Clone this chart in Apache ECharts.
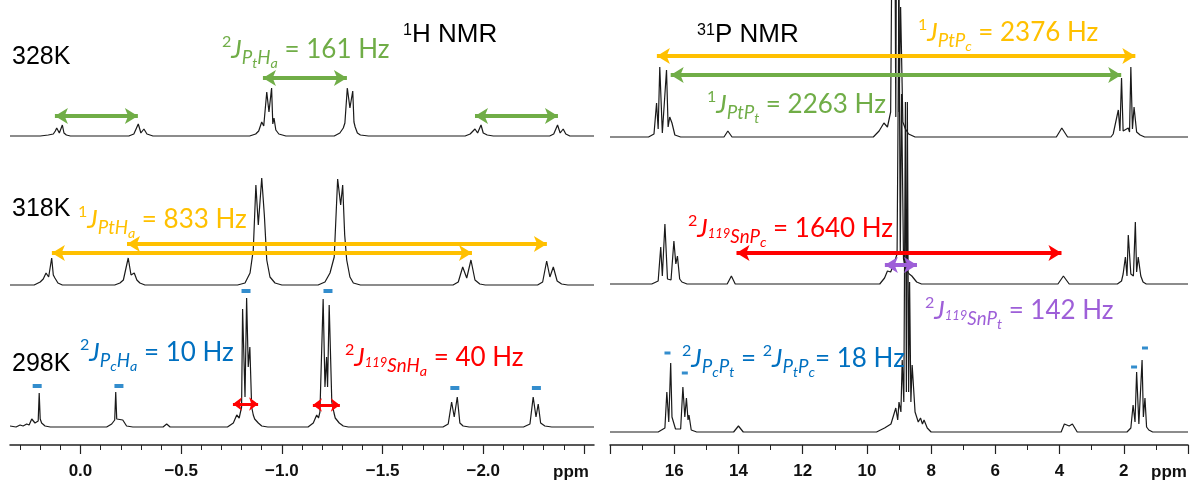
<!DOCTYPE html>
<html>
<head>
<meta charset="utf-8">
<script src="https://cdn.jsdelivr.net/npm/echarts@6/dist/echarts.min.js"></script>
<style>
html, body { margin: 0; padding: 0; background: #fff; }
#chart { width: 1191px; height: 485px; }
</style>
</head>
<body>
<div id="chart"></div>
<script>
// spectra as [ppm, intensity above own baseline]
var h1_328 = [[0.35,0],[0.2,0],[0.16,1],[0.135,2],[0.125,5],[0.118,8],[0.105,3],[0.09,11],[0.082,3],[0.07,1],[0.05,0],
  [-0.24,0],[-0.265,2],[-0.287,12],[-0.3,3],[-0.315,7],[-0.33,2],[-0.36,0],
  [-0.84,0],[-0.87,2],[-0.885,5],[-0.9,14],[-0.91,10],[-0.925,44],[-0.936,24],[-0.949,48],[-0.955,12],[-0.961,18],[-0.97,6],[-0.985,2],[-1.02,0],
  [-1.26,0],[-1.288,3],[-1.305,8],[-1.313,13],[-1.325,48],[-1.338,28],[-1.352,45],[-1.358,14],[-1.364,9],[-1.375,3],[-1.39,1],[-1.43,0],
  [-1.91,0],[-1.935,2],[-1.959,7],[-1.972,3],[-1.989,11],[-2.0,3],[-2.02,1],[-2.05,0],
  [-2.33,0],[-2.35,2],[-2.369,11],[-2.382,3],[-2.397,7],[-2.41,2],[-2.43,0],[-2.55,0]];
var h1_318 = [[0.35,0],[0.23,0],[0.2,3],[0.185,6],[0.171,12],[0.158,8],[0.143,27],[0.135,10],[0.127,7],[0.112,2],[0.09,0],
  [-0.17,0],[-0.196,2],[-0.213,5],[-0.237,27],[-0.251,10],[-0.267,12],[-0.28,5],[-0.295,2],[-0.32,0],
  [-0.78,0],[-0.817,2],[-0.842,12],[-0.858,35],[-0.871,100],[-0.883,60],[-0.9,107],[-0.913,70],[-0.925,25],[-0.941,8],[-0.966,2],[-1.0,0],
  [-1.18,0],[-1.214,3],[-1.239,12],[-1.26,28],[-1.277,106],[-1.292,80],[-1.302,100],[-1.312,50],[-1.322,25],[-1.338,8],[-1.355,2],[-1.39,0],
  [-1.85,0],[-1.876,3],[-1.898,18],[-1.918,7],[-1.939,25],[-1.959,5],[-1.983,1],[-2.01,0],
  [-2.27,0],[-2.295,3],[-2.315,24],[-2.331,8],[-2.348,18],[-2.367,4],[-2.389,1],[-2.42,0],[-2.55,0]];
var h1_298 = [[0.35,1],[0.32,0],[0.3,2],[0.285,1],[0.267,3],[0.255,2],[0.242,8],[0.226,4],[0.21,6],[0.205,34],[0.2,8],[0.193,4],[0.176,1],[0.15,0],
  [-0.13,0],[-0.155,3],[-0.17,7],[-0.175,35],[-0.18,8],[-0.188,6],[-0.21,7],[-0.229,1],[-0.26,0],
  [-0.41,0],[-0.428,3],[-0.445,0],
  [-0.73,0],[-0.759,4],[-0.776,12],[-0.788,9],[-0.8,20],[-0.805,118],[-0.817,30],[-0.825,129],[-0.833,60],[-0.841,80],[-0.85,20],[-0.858,12],[-0.865,8],[-0.871,9],[-0.883,4],[-0.9,1],[-0.93,0],
  [-1.13,0],[-1.156,4],[-1.173,12],[-1.182,9],[-1.189,15],[-1.205,128],[-1.214,40],[-1.222,70],[-1.227,40],[-1.235,122],[-1.248,25],[-1.259,14],[-1.265,9],[-1.272,10],[-1.285,4],[-1.305,1],[-1.33,0],
  [-1.8,0],[-1.826,3],[-1.843,25],[-1.856,10],[-1.871,30],[-1.884,4],[-1.9,1],[-1.93,0],
  [-2.2,0],[-2.232,3],[-2.248,30],[-2.262,10],[-2.273,23],[-2.285,4],[-2.306,1],[-2.34,0],[-2.55,0]];

var p31_328 = [[18,0],[16.8,0],[16.63,3],[16.55,34],[16.5,8],[16.45,70],[16.37,4],[16.24,67],[16.19,10],[16.14,20],[16.07,14],[15.98,2],[15.8,0],
  [14.45,0],[14.33,6],[14.2,0],
  [9.8,0],[9.62,6],[9.47,14],[9.36,10],[9.26,25],[9.16,450],[9.1,20],[9.05,450],[9.0,25],[8.95,130],[8.88,15],[8.8,8],[8.7,3],[8.5,0],
  [4.1,0],[3.93,9],[3.75,0],
  [2.4,0],[2.33,3],[2.17,27],[2.12,6],[2.07,59],[2.02,6],[1.96,5],[1.86,9],[1.82,5],[1.78,70],[1.73,8],[1.68,30],[1.6,5],[1.49,2],[1.35,0],[0,0]];
var p31_318 = [[18,0],[16.7,0],[16.5,3],[16.42,37],[16.37,8],[16.29,60],[16.21,5],[16.1,4],[16.01,43],[15.95,20],[15.9,28],[15.83,5],[15.76,2],[15.6,0],
  [14.35,0],[14.22,8],[14.1,0],
  [9.6,0],[9.45,6],[9.36,13],[9.26,12],[9.14,22],[9.06,30],[9.0,300],[8.96,30],[8.92,190],[8.86,25],[8.8,15],[8.68,10],[8.6,8],[8.45,2],[8.3,0],
  [4.05,0],[3.88,8],[3.7,0],
  [2.2,0],[2.07,3],[2.02,10],[1.95,27],[1.9,8],[1.86,49],[1.78,10],[1.7,8],[1.64,62],[1.6,12],[1.55,27],[1.47,8],[1.4,2],[1.3,0],[0,0]];
var p31_298 = [[18,0],[16.5,0],[16.29,4],[16.23,40],[16.17,10],[16.11,69],[16.07,15],[16.03,15],[15.96,3],[15.8,3],[15.73,45],[15.67,15],[15.62,34],[15.57,12],[15.54,17],[15.47,2],[15.3,0],
  [14.15,0],[14.0,6],[13.85,0],
  [9.7,0],[9.45,4],[9.25,8],[9.1,24],[9.04,12],[9.0,30],[8.94,20],[8.9,72],[8.85,30],[8.8,330],[8.77,40],[8.74,330],[8.7,40],[8.67,150],[8.63,30],[8.59,67],[8.5,20],[8.4,10],[8.33,14],[8.27,8],[8.22,12],[8.12,4],[8.0,0],
  [3.95,0],[3.85,8],[3.7,6],[3.6,8],[3.45,0],
  [1.9,0],[1.78,4],[1.71,27],[1.65,10],[1.6,60],[1.53,8],[1.43,72],[1.39,15],[1.34,34],[1.29,5],[1.22,2],[1.1,0],[0,0]];

// blue multiplet markers [ppm, level]
var dash1H = [[0.215,59],[-0.191,59],[-0.822,154],[-1.229,154],[-1.859,57],[-2.264,57]];
var dash31P = [[16.21,92],[15.67,72],[1.68,78],[1.34,97]];

// coupling arrows: [ppmFrom, ppmTo, level]
var green1H = [[0.127,-0.285,329],[-0.906,-1.323,367],[-1.959,-2.371,329]];
var orange1H = [[-0.231,-2.316,201],[0.142,-1.944,192]];
var red1H = [[-0.757,-0.882,41],[-1.154,-1.288,40]];
var orange31P = [[16.54,1.64,389]];
var green31P = [[16.11,2.08,370]];
var red31P = [[14.06,3.94,192]];
var purple31P = [[9.44,8.44,180]];

// axis ticks
var major1H = [0.0,-0.5,-1.0,-1.5,-2.0,-2.5];
var label1H = [0.0,-0.5,-1.0,-1.5,-2.0];
var minor1H = [0.3,0.2,0.1,-0.1,-0.2,-0.3,-0.4,-0.6,-0.7,-0.8,-0.9,-1.1,-1.2,-1.3,-1.4,-1.6,-1.7,-1.8,-1.9,-2.1,-2.2,-2.3,-2.4];

var GREEN = '#70AD47', ORANGE = '#FFC000', RED = '#FF0000', BLUE = '#0070C0', PURPLE = '#9E5FD8';

var chart = echarts.init(document.getElementById('chart'));

function shift(arr, off) {
  return arr.map(function (p) { return [p[0], p[1] + off]; });
}
function spectrum(arr, off, xi, yi, w) {
  return { type: 'line', xAxisIndex: xi, yAxisIndex: yi, data: shift(arr, off), symbol: 'none',
    lineStyle: { color: '#1a1a1a', width: w }, silent: true, z: 2 };
}
function arrows(list, color, xi, yi, width, size) {
  return { type: 'line', xAxisIndex: xi, yAxisIndex: yi, data: [], z: 5,
    markLine: { silent: true, symbol: ['arrow', 'arrow'], symbolSize: size, animation: false,
      lineStyle: { color: color, width: width, type: 'solid' }, label: { show: false },
      data: list.map(function (a) { return [{ coord: [a[0], a[2]] }, { coord: [a[1], a[2]] }]; }) } };
}

// text with super/subscripts
var ctx = document.createElement('canvas').getContext('2d');
var LV = {
  n:   [1, 0, false],
  i:   [1, 0, true],
  sup: [0.62, -0.4, false],
  asup:[0.62, -0.28, false],
  sub: [0.72, 0.27, true],
  ss:  [0.55, 0.42, true],
  iso: [0.5, 0.08, true]
};
function formula(x, base, size, color, family, parts) {
  var out = [];
  parts.forEach(function (p) {
    var lv = LV[p[1]], fs = size * lv[0];
    var font = (lv[2] ? 'italic ' : '') + fs.toFixed(1) + 'px ' + family;
    ctx.font = font;
    out.push({ type: 'text', x: x, y: base + lv[1] * size - 0.3 * fs, silent: true, z: 10,
      style: { text: p[0], font: font, fill: color, align: 'left', verticalAlign: 'middle' } });
    x += ctx.measureText(p[0]).width;
  });
  return out;
}
var LATO = 'Lato', ARIAL = '"Liberation Sans"';
var S = 26;
var texts = [].concat(
  formula(12, 65, 25, '#000', ARIAL, [['328K', 'n']]),
  formula(12, 217, 25, '#000', ARIAL, [['318K', 'n']]),
  formula(12, 372, 25, '#000', ARIAL, [['298K', 'n']]),
  formula(403, 43, 26, '#000', ARIAL, [['1', 'asup'], ['H NMR', 'n']]),
  formula(697, 43, 26, '#000', ARIAL, [['31', 'asup'], ['P NMR', 'n']]),
  formula(222, 57, S, GREEN, LATO, [['2','sup'],['J','i'],['P','sub'],['t','ss'],['H','sub'],['a','ss'],[' = 161 Hz','n']]),
  formula(78, 227, S, ORANGE, LATO, [['1','sup'],['J','i'],['PtH','sub'],['a','ss'],[' = 833 Hz','n']]),
  formula(80, 360, S, BLUE, LATO, [['2','sup'],['J','i'],['P','sub'],['c','ss'],['H','sub'],['a','ss'],[' = 10 Hz','n']]),
  formula(345, 365, S, RED, LATO, [['2','sup'],['J','i'],['119','iso'],['SnH','sub'],['a','ss'],[' = 40 Hz','n']]),
  formula(918, 40, S, ORANGE, LATO, [['1','sup'],['J','i'],['PtP','sub'],['c','ss'],[' = 2376 Hz','n']]),
  formula(707, 112, S, GREEN, LATO, [['1','sup'],['J','i'],['PtP','sub'],['t','ss'],[' = 2263 Hz','n']]),
  formula(688, 236, S, RED, LATO, [['2','sup'],['J','i'],['119','iso'],['SnP','sub'],['c','ss'],[' = 1640 Hz','n']]),
  formula(925, 318, S, PURPLE, LATO, [['2','sup'],['J','i'],['119','iso'],['SnP','sub'],['t','ss'],[' = 142 Hz','n']]),
  formula(682, 366, S, BLUE, LATO, [['2','sup'],['J','i'],['P','sub'],['c','ss'],['P','sub'],['t','ss'],[' = ','n'],
    ['2','sup'],['J','i'],['P','sub'],['t','ss'],['P','sub'],['c','ss'],['= 18 Hz','n']])
);
texts.push({ type: 'text', x: 571, y: 472, silent: true,
  style: { text: 'ppm', font: 'bold 17px "Liberation Sans"', fill: '#111', align: 'center', verticalAlign: 'middle' } });
texts.push({ type: 'text', x: 1169, y: 472, silent: true,
  style: { text: 'ppm', font: 'bold 17px "Liberation Sans"', fill: '#111', align: 'center', verticalAlign: 'middle' } });

var axisLabelStyle = { fontFamily: 'Liberation Sans', fontWeight: 'bold', fontSize: 17, color: '#111', margin: 18 };

var option = {
  animation: false,
  backgroundColor: '#fff',
  grid: [
    { left: 10, right: 597, top: 0, bottom: 40 },
    { left: 610, right: 1, top: 0, bottom: 40 }
  ],
  xAxis: [
    { gridIndex: 0, type: 'value', min: -2.55, max: 0.35, inverse: true, position: 'bottom',
      axisLine: { lineStyle: { color: '#222', width: 1.5 } },
      axisTick: { customValues: major1H, length: 9, lineStyle: { color: '#222', width: 1.2 } },
      axisLabel: Object.assign({ customValues: label1H,
        formatter: function (v) { return v === 0 ? '0.0' : '\u2212' + Math.abs(v).toFixed(1); } }, axisLabelStyle),
      splitLine: { show: false } },
    { gridIndex: 0, type: 'value', min: -2.55, max: 0.35, inverse: true, position: 'bottom',
      axisLine: { show: false },
      axisTick: { customValues: minor1H, length: 5, lineStyle: { color: '#222', width: 1 } },
      axisLabel: { show: false }, splitLine: { show: false } },
    { gridIndex: 1, type: 'value', min: 0, max: 18, interval: 2, inverse: true, position: 'bottom',
      axisLine: { lineStyle: { color: '#222', width: 1.5 } },
      axisTick: { length: 9, lineStyle: { color: '#222', width: 1.2 } },
      minorTick: { show: true, splitNumber: 2, length: 5, lineStyle: { color: '#222', width: 1 } },
      axisLabel: Object.assign({ formatter: function (v) { return (v === 0 || v === 18) ? '' : String(v); } }, axisLabelStyle),
      splitLine: { show: false } }
  ],
  yAxis: [
    { gridIndex: 0, type: 'value', min: 0, max: 445, show: false },
    { gridIndex: 1, type: 'value', min: 0, max: 445, show: false }
  ],
  series: [
    spectrum(h1_328, 309, 0, 0, 1.2),
    spectrum(h1_318, 160, 0, 0, 1.2),
    spectrum(h1_298, 18, 0, 0, 1.2),
    spectrum(p31_328, 308, 2, 1, 1.2),
    spectrum(p31_318, 161, 2, 1, 1.2),
    spectrum(p31_298, 13, 2, 1, 1.2),
    { type: 'scatter', xAxisIndex: 0, yAxisIndex: 0, data: dash1H, symbol: 'rect', symbolSize: [9, 4],
      itemStyle: { color: BLUE }, silent: true, z: 6 },
    { type: 'scatter', xAxisIndex: 2, yAxisIndex: 1, data: dash31P, symbol: 'rect', symbolSize: [6, 3],
      itemStyle: { color: BLUE }, silent: true, z: 6 },
    arrows(green1H, GREEN, 0, 0, 4, [12, 13]),
    arrows(orange1H, ORANGE, 0, 0, 4, [12, 13]),
    arrows(red1H, RED, 0, 0, 3, [10, 9]),
    arrows(orange31P, ORANGE, 2, 1, 4, [12, 13]),
    arrows(green31P, GREEN, 2, 1, 4, [12, 13]),
    arrows(red31P, RED, 2, 1, 4, [12, 13]),
    arrows(purple31P, PURPLE, 2, 1, 4, [12, 13])
  ],
  graphic: { elements: texts }
};
chart.setOption(option);
</script>
</body>
</html>
